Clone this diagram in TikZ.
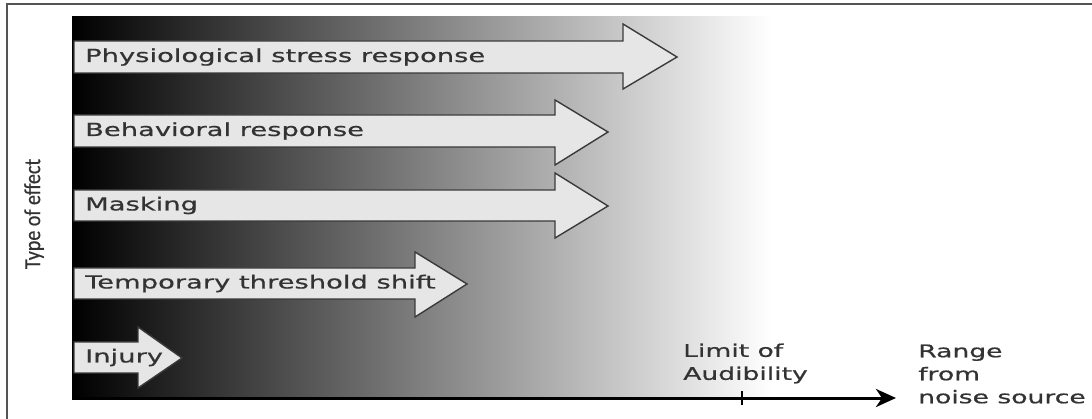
\documentclass[tikz,border=0pt]{standalone}
\usepackage{fontspec}
\usetikzlibrary{arrows.meta}
\newfontfamily\lab[FakeStretch=1.52,FakeBold=0.7]{DejaVu Sans}
\newfontfamily\carl[FakeBold=0.6]{Carlito}
\definecolor{txt}{HTML}{333333}
\definecolor{afill}{HTML}{E6E6E6}
\definecolor{aline}{HTML}{3A3A3A}
\definecolor{frame}{HTML}{555555}
\tikzset{
  effarrow/.style={fill=afill, draw=aline, line width=1.4pt, line join=miter},
  efflabel/.style={anchor=west, inner sep=0pt, text=txt, font=\lab\fontsize{18}{22}\selectfont},
  axlabel/.style={anchor=west, inner sep=0pt, text=txt, align=left, font=\lab\fontsize{17.5}{23}\selectfont},
}
\begin{document}
\begin{tikzpicture}[x=1pt,y=-1pt]
\useasboundingbox (0,0) rectangle (1092,419);
\fill[white] (0,0) rectangle (1092,419);
% frame
\draw[frame, line width=1.6pt] (7,419) -- (7,4) -- (1092,4);
% gradient background
\shade[left color=black, right color=white] (72,17) rectangle (772,399);
% arrows
\path[effarrow] (74,41) -- (623,41) -- (623,24) -- (677,57) -- (623,89) -- (623,73) -- (74,73) -- cycle;
\path[effarrow] (74,115) -- (555,115) -- (555,100) -- (608,132) -- (555,165) -- (555,147) -- (74,147) -- cycle;
\path[effarrow] (74,190) -- (555,190) -- (555,173) -- (608,206) -- (555,238) -- (555,221) -- (74,221) -- cycle;
\path[effarrow] (74,268) -- (415,268) -- (415,252) -- (467,284) -- (415,317) -- (415,299) -- (74,299) -- cycle;
\path[effarrow] (74,342) -- (138,342) -- (138,327) -- (182,358) -- (138,388) -- (138,373) -- (74,373) -- cycle;
% labels
\node[efflabel] (phys) at (85,57) {Physiological stress response};
\node[efflabel] (behav) at (85,131) {Behavioral response};
\node[efflabel] (mask) at (85,205.5) {Masking};
\node[efflabel] (tts) at (85,283.5) {Temporary threshold shift};
\node[efflabel] (inj) at (85,357.5) {Injury};
% y label
\node[rotate=90, inner sep=0pt, text=txt] (ylab) at (34,214) {\scalebox{1}[1.15]{\carl\fontsize{20}{22}\selectfont Type of effect}};
% x axis
\coordinate (ax0) at (72,398);
\coordinate (ax1) at (896,398);
\coordinate (tk) at (742,398);
\draw[black, line width=3pt, -{Stealth[length=20pt,width=18pt,inset=6pt]}] (ax0) -- (ax1);
\draw[black, line width=1.2pt] ([yshift=-7pt]tk) -- ([yshift=7pt]tk);
\node[axlabel] (lim) at (683,363.5) {Limit of\\Audibility};
\node[axlabel] (rng) at (918,374) {Range\\from\\noise source};
\end{tikzpicture}
\end{document}
